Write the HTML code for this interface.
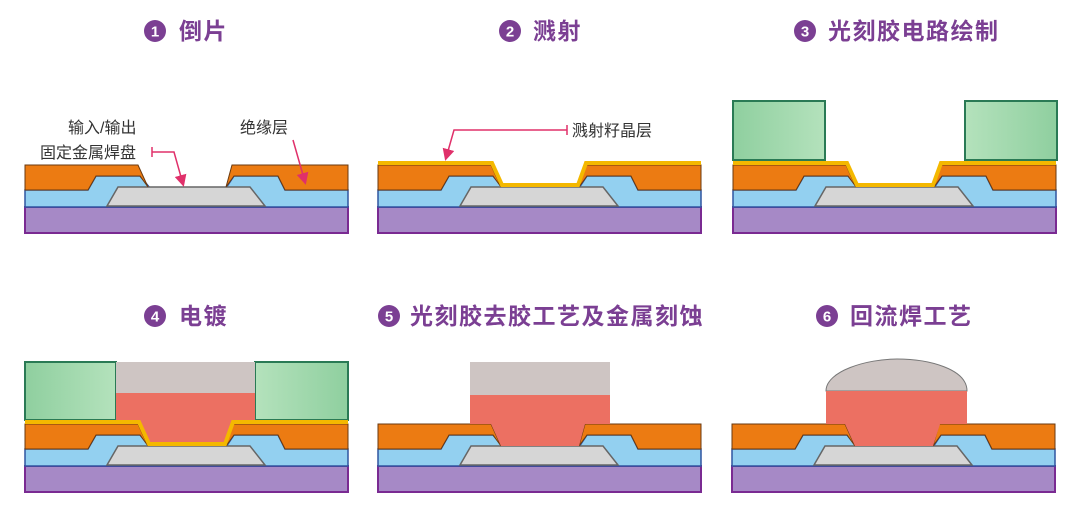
<!DOCTYPE html>
<html><head><meta charset="utf-8"><style>
html,body{margin:0;padding:0;background:#fff;width:1080px;height:509px;overflow:hidden}
svg{display:block}
.t{font-family:"Liberation Sans","Noto Sans CJK SC",sans-serif;font-weight:bold;fill:#7b3f93;font-size:23px;letter-spacing:1.5px}
.n{font-family:"Liberation Sans",sans-serif;font-weight:bold;fill:#fff;font-size:15px}
.l{font-family:"Liberation Sans","Noto Sans CJK SC",sans-serif;fill:#333;font-size:16px}
</style></head><body>
<svg width="1080" height="509" viewBox="0 0 1080 509" xmlns="http://www.w3.org/2000/svg">
<defs>
<linearGradient id="gL" x1="0" x2="1" y1="0" y2="0"><stop offset="0" stop-color="#8fcf9f"/><stop offset="1" stop-color="#b4e2bc"/></linearGradient>
<linearGradient id="gR" x1="0" x2="1" y1="0" y2="0"><stop offset="0" stop-color="#b4e2bc"/><stop offset="1" stop-color="#8fcf9f"/></linearGradient>
<g id="base">
<rect x="25" y="207" width="323" height="26" fill="#a689c6" stroke="#7a2a92" stroke-width="2"/>
<polygon points="25,190 88,190 96,176 140,176 150,188 226,188 234,176 278,176 285,190 348,190 348,207 25,207" fill="#93d0f0" stroke="#2f55a0" stroke-width="1.5"/>
<polygon points="107,206 118,187 250,187 265,206" fill="#d6d6d6" stroke="#666" stroke-width="1.5"/>
<polygon points="25,165 138,165 148,187 140,176 96,176 88,190 25,190" fill="#ec7b12" stroke="#6a3a10" stroke-width="1"/>
<polygon points="232,165 348,165 348,190 285,190 278,176 234,176 226,187" fill="#ec7b12" stroke="#6a3a10" stroke-width="1"/>
</g>
<polyline id="seed" points="25,163 139,163 149,185 225,185 233,163 348,163" fill="none" stroke="#f4b800" stroke-width="4"/>
<marker id="ar" markerWidth="8" markerHeight="8" refX="6" refY="4" orient="auto"><path d="M0,0 L8,4 L0,8 z" fill="#e0306a"/></marker>
</defs>

<circle cx="155" cy="31" r="11" fill="#7b3f93"/><text class="n" x="155" y="36.5" text-anchor="middle">1</text>
<text class="t" x="179" y="39">倒片</text>
<circle cx="510" cy="31" r="11" fill="#7b3f93"/><text class="n" x="510" y="36.5" text-anchor="middle">2</text>
<text class="t" x="533" y="39">溅射</text>
<circle cx="805" cy="31" r="11" fill="#7b3f93"/><text class="n" x="805" y="36.5" text-anchor="middle">3</text>
<text class="t" x="828" y="39">光刻胶电路绘制</text>
<circle cx="155" cy="316" r="11" fill="#7b3f93"/><text class="n" x="155" y="321.5" text-anchor="middle">4</text>
<text class="t" x="179" y="324">电镀</text>
<circle cx="389" cy="316" r="11" fill="#7b3f93"/><text class="n" x="389" y="321.5" text-anchor="middle">5</text>
<text class="t" x="410" y="324">光刻胶去胶工艺及金属刻蚀</text>
<circle cx="827" cy="316" r="11" fill="#7b3f93"/><text class="n" x="827" y="321.5" text-anchor="middle">6</text>
<text class="t" x="850" y="324">回流焊工艺</text>

<use href="#base"/>
<text class="l" x="68" y="133">输入/输出</text>
<text class="l" x="40" y="158">固定金属焊盘</text>
<path d="M152,147 v10 M152,152 H174 L183,184" fill="none" stroke="#e0306a" stroke-width="1.5" marker-end="url(#ar)"/>
<text class="l" x="240" y="133">绝缘层</text>
<path d="M293,140 L305,182" fill="none" stroke="#e0306a" stroke-width="1.5" marker-end="url(#ar)"/>

<g transform="translate(353,0)"><use href="#base"/><use href="#seed"/></g>
<text class="l" x="572" y="136">溅射籽晶层</text>
<path d="M567,125 v10 M567,130 H454 L446,158" fill="none" stroke="#e0306a" stroke-width="1.5" marker-end="url(#ar)"/>

<g transform="translate(708,0)"><use href="#base"/><use href="#seed"/>
<rect x="25" y="101" width="92" height="59" fill="url(#gL)" stroke="#2a7a55" stroke-width="2"/>
<rect x="257" y="101" width="92" height="59" fill="url(#gR)" stroke="#2a7a55" stroke-width="2"/>
</g>

<g transform="translate(0,259)"><use href="#base"/>
<rect x="25" y="103" width="91" height="58" fill="url(#gL)" stroke="#2a7a55" stroke-width="2"/>
<rect x="255" y="103" width="93" height="58" fill="url(#gR)" stroke="#2a7a55" stroke-width="2"/>
<rect x="116" y="103" width="139" height="31" fill="#cec5c3"/>
<polygon points="116,134 255,134 255,163 233,163 225,185 149,185 139,163 116,163" fill="#ec7062"/>
<use href="#seed"/>
</g>

<g transform="translate(353,259)"><use href="#base"/>
<rect x="117" y="103" width="140" height="33" fill="#cec5c3"/>
<polygon points="117,136 257,136 257,165 232,165 226,187 148,187 138,165 117,165" fill="#ec7062"/>
</g>

<g transform="translate(707,259)"><use href="#base"/>
<path d="M119,132 C119,112 160,100 190,100 C222,100 260,110 260,132 Z" fill="#cec5c3" stroke="#777" stroke-width="1"/>
<polygon points="119,132 260,132 260,165 233,165 226,187 148,187 138,165 119,165" fill="#ec7062"/>
</g>
</svg>
</body></html>
